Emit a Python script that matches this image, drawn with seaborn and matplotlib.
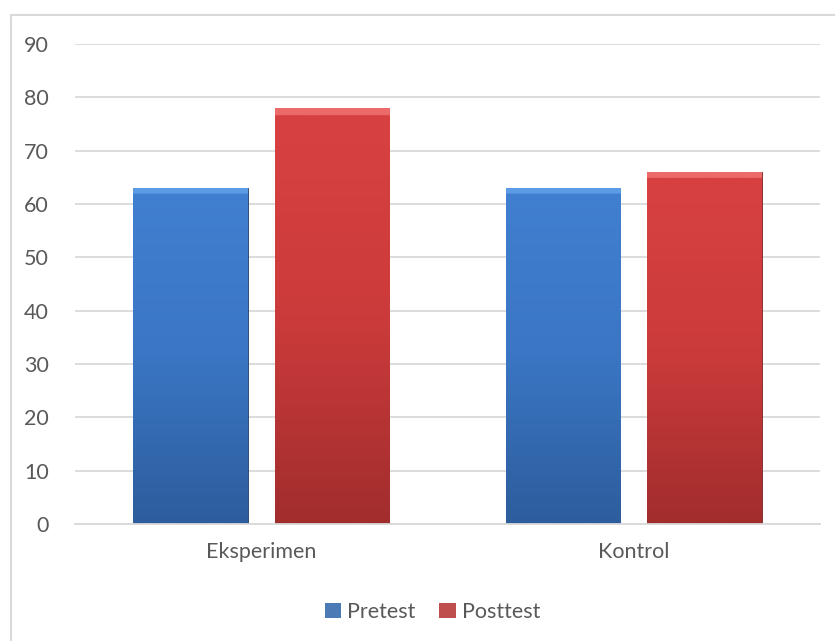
import numpy as np
import pandas as pd
import matplotlib
matplotlib.use("Agg")
import matplotlib.pyplot as plt
from matplotlib.colors import LinearSegmentedColormap
from matplotlib.patches import Rectangle
import seaborn as sns

categories = ["Eksperimen", "Kontrol"]
series = ["Pretest", "Posttest"]
pretest = [63, 63]
posttest = [78, 66]
yticks = [0, 10, 20, 30, 40, 50, 60, 70, 80, 90]

df = pd.DataFrame({
    "kelompok": categories * 2,
    "tes": [series[0]] * len(categories) + [series[1]] * len(categories),
    "nilai": pretest + posttest,
})

sns.set_theme(style="white")
plt.rcParams["font.family"] = ["Lato", "DejaVu Sans"]

fig = plt.figure(figsize=(8.35, 6.41), dpi=100)
ax = fig.add_axes([75 / 835, 1 - 524 / 641, 745 / 835, 480 / 641])

blue = "#3B78C6"
red = "#D23C3C"
sns.barplot(data=df, x="kelompok", y="nilai", hue="tes", order=categories,
            hue_order=series, palette=[blue, red], width=0.76, gap=0.19,
            ax=ax, legend=True, linewidth=0.8, edgecolor="none")

grads = {
    blue: LinearSegmentedColormap.from_list("b", ["#2D5D9C", "#3A76C4", "#417FD0", "#5C9BE6"]),
    red: LinearSegmentedColormap.from_list("r", ["#A22D2D", "#CC3B3B", "#D84141", "#EC6A6A"]),
}
ax.set_ylim(0, 90)
ax.set_xlim(-0.5, 1.5)
for i, p in enumerate(ax.patches[:4]):
    x0, y0 = p.get_x(), p.get_y()
    w, h = p.get_width(), p.get_height()
    col = blue if i < 2 else red
    grad = np.linspace(0, 1, 256).reshape(-1, 1)
    grad = np.where(grad > 0.982, 1.0, grad * 0.67)
    im = ax.imshow(grad, extent=[x0, x0 + w, y0, y0 + h], origin="lower",
                   aspect="auto", cmap=grads[col], zorder=p.get_zorder() + 0.1,
                   vmin=0, vmax=1)
    im.set_clip_path(p)
    p.set_edgecolor("#1f3f6a" if i < 2 else "#7a2020")
    p.set_linewidth(0.6)
ax.set_ylim(0, 90)
ax.set_xlim(-0.5, 1.5)

ax.set_yticks(yticks)
ax.yaxis.grid(True, color="#D9D9D9", linewidth=1.3)
ax.set_axisbelow(True)
for s in ["top", "right", "left"]:
    ax.spines[s].set_visible(False)
ax.spines["bottom"].set_color("#D9D9D9")
ax.spines["bottom"].set_linewidth(1.3)
ax.tick_params(axis="y", length=0, pad=19, labelsize=15.5, labelcolor="#595959")
ax.tick_params(axis="x", length=0, pad=13, labelsize=15.5, labelcolor="#595959")
ax.set_xlabel("")
ax.set_ylabel("")

leg = ax.legend(loc="upper center", bbox_to_anchor=(0.48, -0.122), ncol=2,
                frameon=False, fontsize=15.5, handlelength=0.75, handleheight=0.75,
                handletextpad=0.3, columnspacing=1.1)
for t in leg.get_texts():
    t.set_color("#595959")

fig.add_artist(Rectangle((11 / 835, -0.1), 1.2, (641 - 15) / 641 + 0.1,
                         transform=fig.transFigure, fill=False,
                         edgecolor="#D9D9D9", linewidth=1.5))

fig.savefig("out.png", dpi=100)
